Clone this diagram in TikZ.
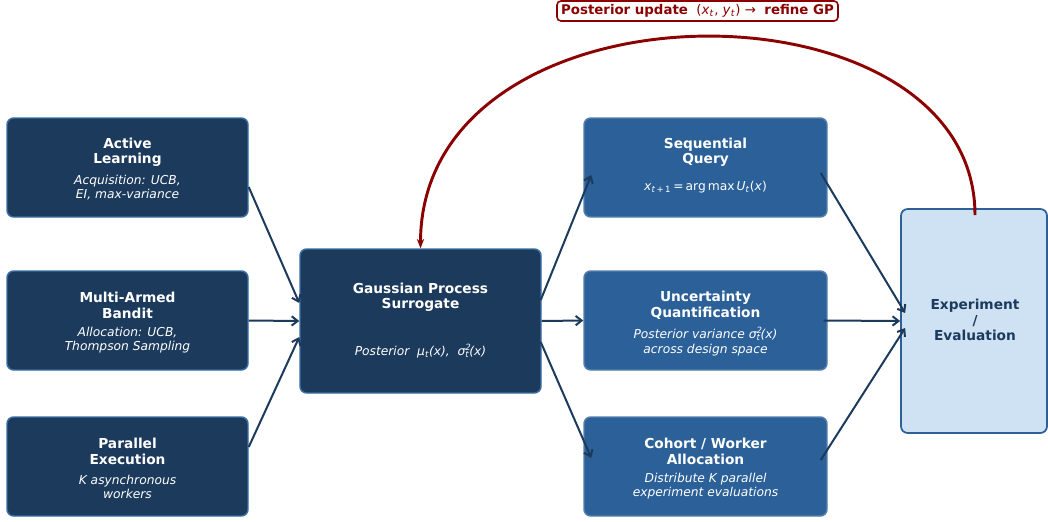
\documentclass[tikz,border=0pt]{standalone}
\usepackage{fontspec}
\setmainfont{DejaVu Sans}
\usetikzlibrary{calc,arrows.meta}
\definecolor{navy}{HTML}{1B3A5C}
\definecolor{midblue}{HTML}{2B6098}
\definecolor{edgeblue}{HTML}{3A6EA5}
\definecolor{lightblue}{HTML}{CFE2F3}
\definecolor{dred}{HTML}{8B0000}
\newcommand{\sbt}[1]{\textsubscript{#1}}
\begin{document}
\begin{tikzpicture}[x=0.75pt,y=-0.75pt,
  darkbox/.style={rectangle,rounded corners=5pt,fill=navy,draw=edgeblue,line width=1.1pt,minimum width=241*0.75pt,minimum height=99*0.75pt,inner sep=0pt},
  medbox/.style={rectangle,rounded corners=5pt,fill=midblue,draw=midblue!80!white,line width=1.1pt,minimum width=243*0.75pt,minimum height=99*0.75pt,inner sep=0pt},
  ttl/.style={align=center,text=white,font=\fontsize{10.3}{11.6}\selectfont\bfseries,inner sep=0pt},
  sub/.style={align=center,text=white,font=\fontsize{9.2}{10.6}\selectfont\itshape,inner sep=0pt},
  arr/.style={draw=navy,line width=1.5pt,-{Straight Barb[length=4.5pt,width=7pt]}},
  fb/.style={draw=dred,line width=2.2pt,-{Stealth[length=7pt,width=5.5pt]}}
]
\useasboundingbox (0,0) rectangle (1048,521);

% left column
\node[darkbox] (al) at (127.5,167.5) {};
\node[darkbox] (mab) at (127.5,320.5) {};
\node[darkbox] (par) at (127.5,466.5) {};
\node[ttl] (alt) at (127.5,152.5) {Active\\Learning};
\node[sub] (als) at (127.5,187.5) {Acquisition: UCB,\\EI, max-variance};
\node[ttl] (mabt) at (127.5,305.5) {Multi-Armed\\Bandit};
\node[sub] (mabs) at (127.5,340.5) {Allocation: UCB,\\Thompson Sampling};
\node[ttl] (part) at (127.5,451.5) {Parallel\\Execution};
\node[sub] (pars) at (127.5,486.5) {K asynchronous\\workers};

% GP
\node[darkbox,minimum height=144*0.75pt] (gp) at (420.5,321) {};
\node[ttl] (gpt) at (420.5,297) {Gaussian Process\\Surrogate};
\node[sub] (gps) at (420.5,351) {Posterior\ \ μ\sbt{t}(x),\ \ σ\rlap{\textsuperscript{2}}\sbt{t}(x)};

% middle right column
\node[medbox] (sq) at (705.5,167.5) {};
\node[medbox] (uq) at (705.5,320.5) {};
\node[medbox] (co) at (705.5,466.5) {};
\node[ttl] (sqt) at (705.5,152.5) {Sequential\\Query};
\node[sub,font=\fontsize{9.2}{10.6}\selectfont] (sqs) at (705.5,187) {\textit{x}\sbt{\textit{t}\,+\,1}\,=\,arg\,max\,\textit{U}\sbt{\textit{t}}(\textit{x})};
\node[ttl] (uqt) at (705.5,305.5) {Uncertainty\\Quantification};
\node[sub] (uqs) at (705.5,341.5) {Posterior variance σ\rlap{\textsuperscript{2}}\sbt{t}(x)\\across design space};
\node[ttl] (cot) at (705.5,451.5) {Cohort / Worker\\Allocation};
\node[sub] (cos) at (705.5,486.5) {Distribute K parallel\\experiment evaluations};

% experiment
\node[rectangle,rounded corners=5pt,fill=lightblue,draw=midblue,line width=1.3pt,minimum width=146*0.75pt,minimum height=224*0.75pt,inner sep=0pt] (ex) at (974,321) {};
\node[ttl,text=navy] (ext) at (975,320) {Experiment\\/\\Evaluation};

% top label
\node[rectangle,rounded corners=3pt,fill=white,draw=dred,line width=1.2pt,minimum width=281*0.75pt,minimum height=20*0.75pt,inner sep=0pt,text=dred,font=\fontsize{10}{11}\selectfont] (lbl) at (697.5,11)
 {\textbf{Posterior update}\ \ (\textit{x}\sbt{\textit{t}}, \textit{y}\sbt{\textit{t}})\ →\ \ \textbf{refine GP}};

% arrows
\draw[arr] ($(al.east)+(0,19.5)$) -- ($(gp.west)+(0,-18)$);
\draw[arr] (mab.east) -- (gp.west);
\draw[arr] ($(par.east)+(0,-19.5)$) -- ($(gp.west)+(0,16)$);
\draw[arr] ($(gp.east)+(-1,-21)$) -- ($(sq.west)+(8,7.5)$);
\draw[arr] (gp.east) -- (uq.west);
\draw[arr] ($(gp.east)+(-1,21)$) -- ($(co.west)+(8,-8.5)$);
\draw[arr] ($(sq.east)+(-7,5.5)$) -- ($(ex.west)+(5,-8)$);
\draw[arr] ($(uq.east)+(-4,0)$) -- (ex.west);
\draw[arr] ($(co.east)+(-7,-6.5)$) -- ($(ex.west)+(5,7)$);

% feedback arc
\coordinate (fbs) at ($(ex.north)+(1,7)$);
\draw[fb] (fbs) .. controls (975,-28) and (420.5,-28) .. (gp.north);
\end{tikzpicture}
\end{document}
